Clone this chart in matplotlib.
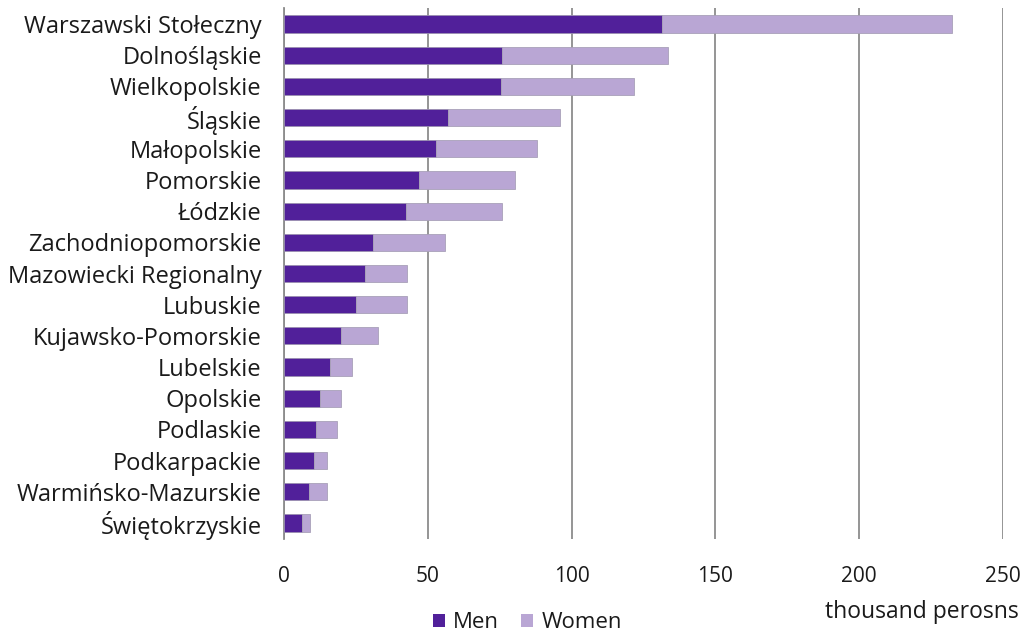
import matplotlib
matplotlib.use("Agg")
import matplotlib.pyplot as plt
from matplotlib.patches import Patch

plt.rcParams['font.family'] = ['Open Sans', 'DejaVu Sans']

regions = ["Warszawski Stołeczny", "Dolnośląskie", "Wielkopolskie", "Śląskie",
           "Małopolskie", "Pomorskie", "Łódzkie", "Zachodniopomorskie",
           "Mazowiecki Regionalny", "Lubuskie", "Kujawsko-Pomorskie", "Lubelskie",
           "Opolskie", "Podlaskie", "Podkarpackie", "Warmińsko-Mazurskie",
           "Świętokrzyskie"]
men = [131.6, 75.9, 75.3, 57.1, 52.7, 46.8, 42.4, 30.8, 28.2, 25.0, 20.0,
       16.1, 12.6, 11.1, 10.3, 8.6, 6.4]
women = [100.8, 57.5, 46.5, 38.8, 35.2, 33.5, 33.5, 25.1, 14.7, 17.9, 12.6,
         7.6, 7.4, 7.2, 4.5, 6.2, 2.5]
xticks = [0, 50, 100, 150, 200, 250]

men_color = "#51209A"
women_color = "#B9A6D4"
text_color = "#1a1a1a"

fig = plt.figure(figsize=(10.24, 6.34), dpi=100)
ax = fig.add_axes([0.2773, 0.1505, 0.7022, 0.8362])

y = list(range(len(regions)))
ax.barh(y, men, height=0.55, color=men_color, edgecolor="#9a8fb0", linewidth=0.6, zorder=3)
ax.barh(y, women, left=men, height=0.55, color=women_color, edgecolor="#a8a0b8", linewidth=0.6, zorder=3)

ax.set_ylim(len(regions) - 0.5, -0.5)
ax.set_xlim(0, 250)
ax.set_yticks(y)
ax.set_yticklabels(regions, fontsize=17, color=text_color)
ax.set_xticks(xticks)
ax.set_xticklabels([str(t) for t in xticks], fontsize=15, color=text_color)
ax.tick_params(axis='both', length=0)
ax.tick_params(axis='y', pad=16)
ax.tick_params(axis='x', pad=20)
ax.xaxis.grid(True, color="#8c8c8c", linewidth=1.3, zorder=0)
for s in ["top", "right", "bottom"]:
    ax.spines[s].set_visible(False)
ax.spines["left"].set_color("#8c8c8c")
ax.spines["left"].set_linewidth(1.3)

handles = [Patch(facecolor=men_color, label="Men"), Patch(facecolor=women_color, label="Women")]
fig.legend(handles=handles, loc="center", bbox_to_anchor=(0.515, 0.018), ncol=2, frameon=False,
           fontsize=16, handlelength=0.55, handleheight=0.55, handletextpad=0.35, columnspacing=1.0,
           labelcolor=text_color)
fig.text(0.995, 0.034, "thousand perosns", ha="right", va="center", fontsize=16.5, color=text_color)

fig.savefig("out.png", dpi=100)
